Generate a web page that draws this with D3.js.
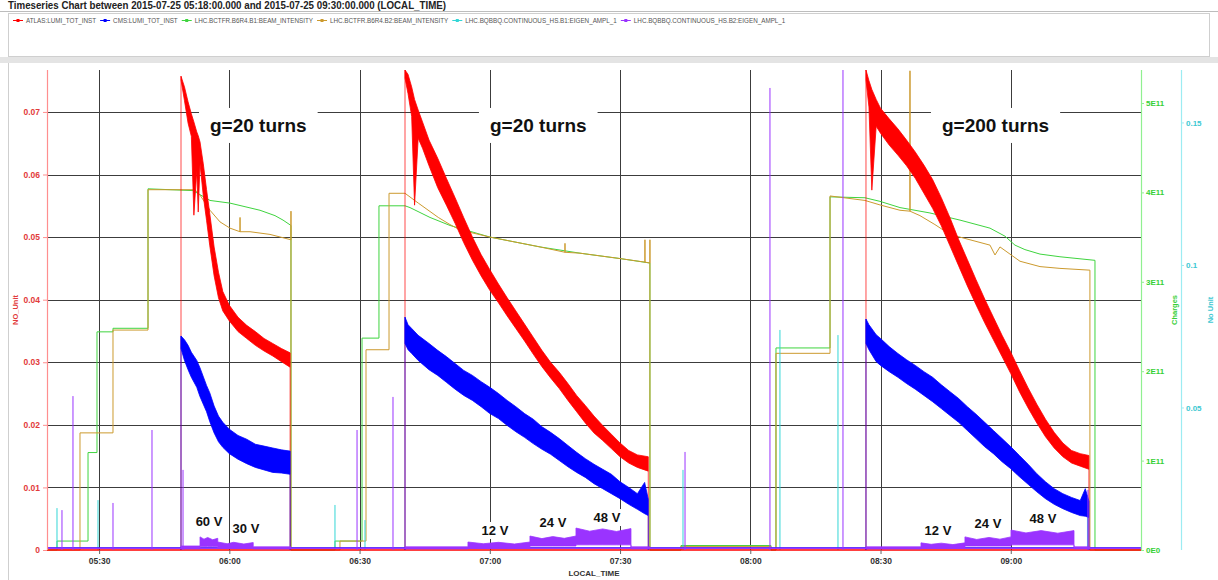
<!DOCTYPE html>
<html>
<head>
<meta charset="utf-8">
<script src="https://cdn.jsdelivr.net/npm/d3@7"></script>
<style>
	body { margin: 0; background: #fff; }
	svg { display: block; font-family: 'Liberation Sans', Arial, sans-serif; }
</style>
</head>
<body>
<div id="container"></div>
<script>
const chartTitle = 'Timeseries Chart between 2015-07-25 05:18:00.000 and 2015-07-25 09:30:00.000 (LOCAL_TIME)';
const seriesNames = [
	'ATLAS:LUMI_TOT_INST',
	'CMS:LUMI_TOT_INST',
	'LHC.BCTFR.B6R4.B1:BEAM_INTENSITY',
	'LHC.BCTFR.B6R4.B2:BEAM_INTENSITY',
	'LHC.BQBBQ.CONTINUOUS_HS.B1:EIGEN_AMPL_1',
	'LHC.BQBBQ.CONTINUOUS_HS.B2:EIGEN_AMPL_1'
];
const startTime = '05:18:00';
const endTime = '09:30:00';
const timeTicks = ['05:30:00', '06:00:00', '06:30:00', '07:00:00', '07:30:00', '08:00:00', '08:30:00', '09:00:00'];
const lumiTicks = [0, 0.01, 0.02, 0.03, 0.04, 0.05, 0.06, 0.07];
const chargeTicks = [0, 1e11, 2e11, 3e11, 4e11, 5e11];
const tuneTicks = [0.05, 0.1, 0.15];

// [time, low, high] of the noisy luminosity traces, one list per fill
const atlasFill1 = [
	['05:48:52', 0.0751, 0.0757], ['05:49:40', 0.0718, 0.0740], ['05:50:30', 0.0682, 0.0716],
	['05:51:15', 0.0661, 0.0697], ['05:51:50', 0.0535, 0.0684], ['05:52:30', 0.0606, 0.0668],
	['05:52:50', 0.0540, 0.0662], ['05:53:15', 0.0617, 0.0652], ['05:54:00', 0.0566, 0.0617],
	['05:54:45', 0.0527, 0.0576], ['05:55:30', 0.0486, 0.0537], ['05:56:30', 0.0438, 0.0484],
	['05:57:30', 0.0403, 0.0444], ['05:58:30', 0.0382, 0.0413], ['06:00:00', 0.0366, 0.0391],
	['06:02:00', 0.0349, 0.0372], ['06:04:00', 0.0338, 0.0359], ['06:06:00', 0.0327, 0.0349],
	['06:08:00', 0.0318, 0.0338], ['06:10:00', 0.0310, 0.0330], ['06:12:00', 0.0301, 0.0322],
	['06:14:00', 0.0292, 0.0315]
];
const atlasFill2 = [
	['06:40:28', 0.0754, 0.0767], ['06:41:10', 0.0729, 0.0760], ['06:42:00', 0.0693, 0.0740],
	['06:42:40', 0.0551, 0.0720], ['06:43:30', 0.0658, 0.0703], ['06:44:30', 0.0642, 0.0684],
	['06:46:00', 0.0614, 0.0655], ['06:48:00', 0.0579, 0.0626], ['06:50:00', 0.0551, 0.0594],
	['06:52:00', 0.0522, 0.0563], ['06:54:00', 0.0491, 0.0531], ['06:56:00', 0.0463, 0.0500],
	['06:58:00', 0.0438, 0.0472], ['07:00:00', 0.0415, 0.0448], ['07:02:00', 0.0395, 0.0425],
	['07:04:00', 0.0374, 0.0403], ['07:06:00', 0.0354, 0.0382], ['07:08:00', 0.0334, 0.0361],
	['07:10:00', 0.0313, 0.0340], ['07:12:00', 0.0293, 0.0319], ['07:14:00', 0.0275, 0.0300],
	['07:16:00', 0.0258, 0.0284], ['07:18:00', 0.0239, 0.0266], ['07:20:00', 0.0221, 0.0247],
	['07:22:00', 0.0203, 0.0231], ['07:24:00', 0.0187, 0.0214], ['07:26:00', 0.0175, 0.0199],
	['07:28:00', 0.0162, 0.0185], ['07:30:00', 0.0149, 0.0171], ['07:32:00', 0.0139, 0.0159],
	['07:34:00', 0.0132, 0.0152], ['07:36:30', 0.0126, 0.0149]
];
const atlasFill3 = [
	['08:26:39', 0.0751, 0.0767], ['08:27:20', 0.0708, 0.0750], ['08:28:00', 0.0575, 0.0736],
	['08:29:00', 0.0677, 0.0720], ['08:30:00', 0.0666, 0.0706], ['08:32:00', 0.0647, 0.0689],
	['08:34:00', 0.0631, 0.0673], ['08:36:00', 0.0614, 0.0655], ['08:38:00', 0.0594, 0.0636],
	['08:40:00', 0.0570, 0.0615], ['08:42:00', 0.0546, 0.0592], ['08:44:00', 0.0518, 0.0563],
	['08:46:00', 0.0486, 0.0531], ['08:48:00', 0.0454, 0.0496], ['08:50:00', 0.0422, 0.0464],
	['08:52:00', 0.0392, 0.0432], ['08:54:00', 0.0363, 0.0401], ['08:56:00', 0.0336, 0.0372],
	['08:58:00', 0.0309, 0.0343], ['09:00:00', 0.0282, 0.0316], ['09:02:00', 0.0253, 0.0287],
	['09:04:00', 0.0227, 0.0259], ['09:06:00', 0.0203, 0.0233], ['09:08:00', 0.0181, 0.0209],
	['09:10:00', 0.0163, 0.0188], ['09:12:00', 0.0149, 0.0171], ['09:14:00', 0.0139, 0.0159],
	['09:16:00', 0.0134, 0.0154], ['09:18:00', 0.0129, 0.0151]
];
const cmsFill1 = [
	['05:48:52', 0.0322, 0.0342], ['05:49:40', 0.0303, 0.0336], ['05:50:30', 0.0288, 0.0327],
	['05:51:15', 0.0276, 0.0316], ['05:52:30', 0.0260, 0.0303], ['05:53:15', 0.0245, 0.0291],
	['05:54:45', 0.0221, 0.0263], ['05:55:30', 0.0205, 0.0251], ['05:56:30', 0.0187, 0.0230],
	['05:57:30', 0.0173, 0.0214], ['05:58:30', 0.0164, 0.0204], ['06:00:00', 0.0154, 0.0193],
	['06:02:00', 0.0145, 0.0183], ['06:04:00', 0.0138, 0.0177], ['06:06:00', 0.0132, 0.0169],
	['06:08:00', 0.0128, 0.0166], ['06:10:00', 0.0124, 0.0163], ['06:12:00', 0.0123, 0.0160],
	['06:14:00', 0.0121, 0.0158]
];
const cmsFill2 = [
	['06:40:28', 0.0330, 0.0372], ['06:41:10', 0.0320, 0.0360], ['06:42:00', 0.0314, 0.0354],
	['06:43:30', 0.0303, 0.0343], ['06:46:00', 0.0288, 0.0330], ['06:48:00', 0.0279, 0.0319],
	['06:50:00', 0.0268, 0.0309], ['06:52:00', 0.0257, 0.0298], ['06:54:00', 0.0247, 0.0287],
	['06:56:00', 0.0239, 0.0279], ['06:58:00', 0.0229, 0.0269], ['07:00:00', 0.0218, 0.0260],
	['07:02:00', 0.0210, 0.0250], ['07:04:00', 0.0199, 0.0239], ['07:06:00', 0.0189, 0.0229],
	['07:08:00', 0.0180, 0.0218], ['07:10:00', 0.0170, 0.0209], ['07:12:00', 0.0161, 0.0197],
	['07:14:00', 0.0153, 0.0188], ['07:16:00', 0.0143, 0.0178], ['07:18:00', 0.0133, 0.0167],
	['07:20:00', 0.0124, 0.0156], ['07:22:00', 0.0116, 0.0146], ['07:24:00', 0.0106, 0.0137],
	['07:26:00', 0.0098, 0.0129], ['07:28:00', 0.0090, 0.0121], ['07:30:00', 0.0082, 0.0109],
	['07:32:00', 0.0073, 0.0100], ['07:34:00', 0.0065, 0.0090], ['07:35:40', 0.0058, 0.0108],
	['07:36:30', 0.0055, 0.0081]
];
const cmsFill3 = [
	['08:26:39', 0.0330, 0.0369], ['08:27:20', 0.0320, 0.0360], ['08:29:00', 0.0301, 0.0344],
	['08:30:00', 0.0295, 0.0338], ['08:32:00', 0.0285, 0.0325], ['08:34:00', 0.0276, 0.0314],
	['08:36:00', 0.0266, 0.0304], ['08:38:00', 0.0257, 0.0295], ['08:40:00', 0.0247, 0.0285],
	['08:42:00', 0.0237, 0.0276], ['08:44:00', 0.0226, 0.0264], ['08:46:00', 0.0215, 0.0253],
	['08:48:00', 0.0204, 0.0242], ['08:50:00', 0.0191, 0.0229], ['08:52:00', 0.0178, 0.0217],
	['08:54:00', 0.0165, 0.0204], ['08:56:00', 0.0154, 0.0191], ['08:58:00', 0.0141, 0.0178],
	['09:00:00', 0.0130, 0.0165], ['09:02:00', 0.0117, 0.0151], ['09:04:00', 0.0105, 0.0137],
	['09:06:00', 0.0093, 0.0122], ['09:08:00', 0.0082, 0.0109], ['09:10:00', 0.0073, 0.0098],
	['09:12:00', 0.0066, 0.0090], ['09:14:00', 0.0060, 0.0084], ['09:16:00', 0.0055, 0.0079],
	['09:17:10', 0.0054, 0.0098], ['09:18:00', 0.0052, 0.0078]
];

// [time, charges]
const beam1Intensity = [
	['05:18:00', 0], ['05:20:18', 0], ['05:20:18', 0.10e11], ['05:27:27', 0.10e11], ['05:27:27', 1.09e11],
	['05:29:31', 1.09e11], ['05:29:31', 2.44e11], ['05:33:12', 2.44e11], ['05:33:12', 2.48e11],
	['05:41:16', 2.48e11], ['05:41:16', 4.04e11], ['05:51:38', 4.02e11], ['05:55:33', 3.91e11],
	['06:00:09', 3.88e11], ['06:07:04', 3.80e11], ['06:10:31', 3.74e11], ['06:12:22', 3.69e11],
	['06:14:12', 3.63e11], ['06:14:12', 0], ['06:24:20', 0], ['06:24:20', 0.10e11],
	['06:30:34', 0.10e11], ['06:30:34', 2.37e11], ['06:34:28', 2.37e11], ['06:34:28', 3.85e11],
	['06:40:28', 3.85e11], ['06:41:37', 3.83e11], ['06:46:13', 3.72e11], ['06:50:50', 3.63e11],
	['07:00:02', 3.50e11], ['07:11:34', 3.39e11], ['07:20:46', 3.32e11], ['07:29:59', 3.26e11],
	['07:36:53', 3.21e11], ['07:36:53', 0], ['07:44:02', 0], ['07:44:02', 0.05e11],
	['08:04:46', 0.05e11], ['08:04:46', 0], ['08:05:55', 0], ['08:05:55', 2.26e11],
	['08:18:22', 2.26e11], ['08:18:22', 3.95e11], ['08:26:25', 3.94e11], ['08:29:52', 3.90e11],
	['08:34:29', 3.83e11], ['08:41:23', 3.77e11], ['08:48:18', 3.69e11], ['08:55:13', 3.60e11],
	['08:58:40', 3.51e11], ['09:00:58', 3.41e11], ['09:03:16', 3.36e11], ['09:06:44', 3.31e11],
	['09:11:20', 3.28e11], ['09:19:24', 3.24e11], ['09:19:24', 0], ['09:30:00', 0]
];
const beam2Intensity = [
	['05:18:00', 0], ['05:25:36', 0], ['05:25:36', 1.31e11], ['05:33:12', 1.31e11], ['05:33:12', 2.46e11],
	['05:41:16', 2.46e11], ['05:41:16', 4.03e11], ['05:52:05', 4.03e11], ['05:53:15', 3.97e11],
	['05:55:33', 3.80e11], ['05:57:51', 3.67e11], ['06:00:09', 3.60e11], ['06:02:28', 3.56e11],
	['06:02:28', 3.72e11], ['06:02:28', 3.56e11], ['06:04:46', 3.56e11], ['06:09:22', 3.53e11],
	['06:14:12', 3.47e11], ['06:14:12', 3.79e11], ['06:14:12', 0], ['06:25:29', 0], ['06:25:29', 0.10e11],
	['06:31:29', 0.10e11], ['06:31:29', 2.24e11], ['06:36:47', 2.24e11], ['06:36:47', 3.99e11],
	['06:40:28', 3.99e11], ['06:43:32', 3.88e11], ['06:48:08', 3.72e11], ['06:50:50', 3.64e11],
	['06:53:08', 3.58e11], ['07:00:02', 3.50e11], ['07:11:34', 3.39e11], ['07:17:19', 3.33e11],
	['07:17:19', 3.43e11], ['07:17:19', 3.33e11], ['07:20:46', 3.32e11], ['07:29:59', 3.26e11],
	['07:35:44', 3.22e11], ['07:35:44', 3.47e11], ['07:35:44', 3.22e11], ['07:36:53', 3.21e11],
	['07:36:53', 3.47e11], ['07:36:53', 0], ['07:44:02', 0], ['07:44:02', 0.04e11],
	['08:04:46', 0.04e11], ['08:04:46', 0], ['08:05:55', 0], ['08:05:55', 2.20e11],
	['08:18:22', 2.20e11], ['08:18:22', 3.96e11], ['08:26:25', 3.91e11], ['08:29:52', 3.86e11],
	['08:34:29', 3.80e11], ['08:36:47', 3.79e11], ['08:36:47', 5.36e11], ['08:36:47', 3.79e11],
	['08:39:05', 3.74e11], ['08:42:32', 3.64e11], ['08:45:59', 3.53e11], ['08:50:36', 3.47e11],
	['08:55:13', 3.41e11], ['08:56:22', 3.30e11], ['08:57:31', 3.39e11], ['08:59:49', 3.31e11],
	['09:02:07', 3.23e11], ['09:06:44', 3.17e11], ['09:11:20', 3.15e11], ['09:18:14', 3.13e11],
	['09:18:14', 0], ['09:30:00', 0]
];

// [time, low, high] of the B2 eigen amplitude during the excitation steps
const b2AmplFill1 = [
	['05:48:52', 0.0004, 0.0014], ['05:53:15', 0.0004, 0.0014], ['05:53:15', 0.0011, 0.0046],
	['05:54:10', 0.0012, 0.0038], ['05:55:00', 0.0012, 0.0044], ['05:56:10', 0.0012, 0.0036],
	['05:57:20', 0.0011, 0.0041], ['05:57:20', 0.0007, 0.0028], ['05:59:30', 0.0007, 0.0022],
	['06:01:00', 0.0007, 0.0027], ['06:03:20', 0.0007, 0.0021], ['06:05:30', 0.0007, 0.0026],
	['06:05:30', 0.0004, 0.0011], ['06:14:12', 0.0004, 0.0011]
];
const b2AmplFill2 = [
	['06:40:28', 0.0004, 0.0011], ['06:54:58', 0.0004, 0.0011], ['06:54:58', 0.0007, 0.0028],
	['06:58:30', 0.0007, 0.0022], ['07:02:00', 0.0007, 0.0027], ['07:05:40', 0.0007, 0.0021],
	['07:09:15', 0.0007, 0.0028], ['07:09:15', 0.0014, 0.0049], ['07:12:00', 0.0014, 0.0040],
	['07:14:30', 0.0014, 0.0047], ['07:17:10', 0.0014, 0.0041], ['07:19:51', 0.0014, 0.0049],
	['07:19:51', 0.0018, 0.0077], ['07:23:00', 0.0018, 0.0066], ['07:26:00', 0.0018, 0.0074],
	['07:29:10', 0.0018, 0.0065], ['07:32:31', 0.0018, 0.0075], ['07:32:31', 0.0004, 0.0011],
	['07:36:54', 0.0004, 0.0011]
];
const b2AmplFill3 = [
	['08:26:39', 0.0004, 0.0011], ['08:39:19', 0.0004, 0.0011], ['08:39:19', 0.0007, 0.0025],
	['08:41:40', 0.0007, 0.0020], ['08:44:00', 0.0007, 0.0024], ['08:46:40', 0.0007, 0.0019],
	['08:49:27', 0.0007, 0.0025], ['08:49:27', 0.0014, 0.0046], ['08:52:10', 0.0014, 0.0037],
	['08:55:00', 0.0014, 0.0044], ['08:57:30', 0.0014, 0.0038], ['09:00:03', 0.0014, 0.0046],
	['09:00:03', 0.0018, 0.0070], ['09:03:30', 0.0018, 0.0060], ['09:07:00', 0.0018, 0.0068],
	['09:10:50', 0.0018, 0.0059], ['09:14:34', 0.0018, 0.0068], ['09:14:34', 0.0004, 0.0011],
	['09:18:14', 0.0004, 0.0011]
];
// [time, peak] of isolated spikes
const b2AmplSpikes = [
	['05:21:27', 0.0140], ['05:23:59', 0.0540], ['05:33:12', 0.0165], ['05:42:11', 0.0421],
	['05:49:20', 0.0281], ['06:29:25', 0.0421], ['06:37:42', 0.0537], ['07:44:58', 0.0344],
	['08:04:32', 0.1621], ['08:21:21', 0.1684], ['09:17:47', 0.0211]
];
const b1AmplSpikes = [
	['05:20:18', 0.0147], ['05:29:45', 0.0175], ['06:24:20', 0.0158], ['06:31:15', 0.0105],
	['07:44:30', 0.0281], ['08:06:50', 0.0772], ['08:20:12', 0.0754], ['09:17:40', 0.0193]
];
const amplBaseline = 0.0006;
const cmsBaseline = 0.0003;

// [text, time, luminosity]
const gainNotes = [['g=20 turns', '05:55:33', 0.0668], ['g=20 turns', '07:00:02', 0.0668], ['g=200 turns', '08:44:09', 0.0668]];
const voltageNotes = [
	['60 V', '05:55:19', 0.00384], ['30 V', '06:03:50', 0.00272], ['12 V', '07:01:11', 0.0024],
	['24 V', '07:14:33', 0.00368], ['48 V', '07:26:59', 0.00447], ['12 V', '08:43:14', 0.0024],
	['24 V', '08:54:45', 0.00352], ['48 V', '09:07:25', 0.00432]
];

const colors = ['#ff0000', '#0000ff', '#3fd43f', '#cc9a2e', '#33d6d6', '#9a33ff'];

const W = 1218;
const H = 580;
const plot = { left: 47, right: 1141, top: 70, bottom: 550 };
const tuneAxisX = 1181;

const parseTime = d3.timeParse('%H:%M:%S');
const x = d3.scaleTime().domain([parseTime(startTime), parseTime(endTime)]).range([plot.left, plot.right]);
const yLumi = d3.scaleLinear().domain([0, 0.0767]).range([plot.bottom, plot.top]);
const yCharge = d3.scaleLinear().domain([0, 5.369e11]).range([plot.bottom, plot.top]);
const yTune = d3.scaleLinear().domain([0, 0.1684]).range([plot.bottom, plot.top]);
const tx = s => x(parseTime(s));

const svg = d3.select('#container').append('svg')
	.attr('width', W)
	.attr('height', H);

svg.append('rect').attr('width', W).attr('height', H).attr('fill', '#fff');

// title strip and legend box
svg.append('text')
	.text(chartTitle)
	.attr('x', 8)
	.attr('y', 9)
	.attr('font-size', 10)
	.attr('font-weight', 700)
	.attr('fill', '#222')
	.attr('textLength', 438)
	.attr('lengthAdjust', 'spacingAndGlyphs');
svg.append('line').attr('x1', 0).attr('x2', W).attr('y1', 11.5).attr('y2', 11.5).attr('stroke', '#bdbdbd');
svg.append('rect')
	.attr('x', 8.5).attr('y', 13.5).attr('width', 1201).attr('height', 43)
	.attr('fill', '#fff').attr('stroke', '#cfcfcf');
svg.append('rect').attr('x', 0).attr('y', 57).attr('width', W).attr('height', 6).attr('fill', '#e4e4e4');
svg.append('line').attr('x1', 8.5).attr('x2', 8.5).attr('y1', 63).attr('y2', H).attr('stroke', '#cfcfcf');

const legend = svg.append('g').attr('font-size', 6.3).attr('fill', '#555');
let legendX = 26;
seriesNames.forEach((name, i) => {
	const item = legend.append('g');
	item.append('line')
		.attr('x1', legendX - 13).attr('x2', legendX - 3)
		.attr('y1', 20.5).attr('y2', 20.5)
		.attr('stroke', colors[i]).attr('stroke-width', 1);
	item.append('rect')
		.attr('x', legendX - 9.5).attr('y', 19).attr('width', 3).attr('height', 3)
		.attr('fill', colors[i]);
	const label = item.append('text').text(name).attr('x', legendX).attr('y', 22.7);
	legendX += label.node().getComputedTextLength() + 17;
});

// grid
const grid = svg.append('g').attr('stroke', '#3c3c3c').attr('stroke-width', 1).attr('shape-rendering', 'crispEdges');
grid.selectAll('.hgrid')
	.data(lumiTicks.filter(d => d > 0)).enter()
	.append('line')
	.attr('x1', plot.left).attr('x2', plot.right)
	.attr('y1', d => Math.round(yLumi(d)) + 0.5).attr('y2', d => Math.round(yLumi(d)) + 0.5);
grid.selectAll('.vgrid')
	.data(timeTicks).enter()
	.append('line')
	.attr('y1', plot.top).attr('y2', plot.bottom)
	.attr('x1', d => Math.round(tx(d)) + 0.5).attr('x2', d => Math.round(tx(d)) + 0.5);

const boxLayer = svg.append('g');

svg.append('clipPath').attr('id', 'plot-clip')
	.append('rect')
	.attr('x', plot.left).attr('y', plot.top - 1)
	.attr('width', plot.right - plot.left).attr('height', plot.bottom - plot.top + 2);
const data = svg.append('g').attr('clip-path', 'url(#plot-clip)');

const stepLine = y => d3.line().x(d => tx(d[0])).y(d => y(d[1]));
const bandArea = y => d3.area().x(d => tx(d[0])).y0(d => y(d[1])).y1(d => y(d[2]));

// beam intensities
data.append('path').datum(beam1Intensity)
	.attr('d', stepLine(yCharge)).attr('fill', 'none').attr('stroke', colors[2]).attr('stroke-width', 1);
data.append('path').datum(beam2Intensity)
	.attr('d', stepLine(yCharge)).attr('fill', 'none').attr('stroke', colors[3]).attr('stroke-width', 1);

// B1 eigen amplitude
data.append('path').datum([[startTime, amplBaseline], [endTime, amplBaseline]])
	.attr('d', stepLine(yTune)).attr('stroke', colors[4]).attr('stroke-width', 1);
data.selectAll('.b1-spike')
	.data(b1AmplSpikes).enter()
	.append('line')
	.attr('x1', d => tx(d[0])).attr('x2', d => tx(d[0]))
	.attr('y1', yTune(0)).attr('y2', d => yTune(d[1]))
	.attr('stroke', colors[4]).attr('stroke-width', 1);

function noisyTrace(fills, color, baseline) {
	const g = data.append('g');
	g.append('path').datum([[startTime, baseline], [endTime, baseline]])
		.attr('d', stepLine(yLumi)).attr('stroke', color).attr('stroke-width', 1.5);
	fills.forEach(rows => {
		const first = rows[0];
		const last = rows[rows.length - 1];
		g.append('path').datum([[first[0], 0], [first[0], first[2]]])
			.attr('d', stepLine(yLumi)).attr('stroke', color).attr('stroke-width', 1).attr('opacity', 0.7);
		g.append('path').datum([[last[0], last[1]], [last[0], 0]])
			.attr('d', stepLine(yLumi)).attr('stroke', color).attr('stroke-width', 1).attr('opacity', 0.7);
		g.append('path').datum(rows)
			.attr('d', bandArea(yLumi))
			.attr('fill', color).attr('stroke', color).attr('stroke-width', 0.8).attr('stroke-linejoin', 'round');
	});
}
noisyTrace([atlasFill1, atlasFill2, atlasFill3], colors[0], 0);
noisyTrace([cmsFill1, cmsFill2, cmsFill3], colors[1], cmsBaseline);

// B2 eigen amplitude
data.append('path').datum([[startTime, amplBaseline], [endTime, amplBaseline]])
	.attr('d', stepLine(yTune)).attr('stroke', colors[5]).attr('stroke-width', 1.5);
[b2AmplFill1, b2AmplFill2, b2AmplFill3].forEach(rows => {
	data.append('path').datum(rows)
		.attr('d', bandArea(yTune))
		.attr('fill', colors[5]).attr('stroke', colors[5]).attr('stroke-width', 0.8);
});
data.selectAll('.b2-spike')
	.data(b2AmplSpikes).enter()
	.append('line')
	.attr('x1', d => tx(d[0])).attr('x2', d => tx(d[0]))
	.attr('y1', yTune(0)).attr('y2', d => yTune(d[1]))
	.attr('stroke', colors[5]).attr('stroke-width', 1);

// annotations with white backing
const notes = svg.append('g').attr('font-weight', 700).attr('fill', '#111');
function note(text, time, value, size, anchor, padX, padY) {
	const label = notes.append('text')
		.text(text)
		.attr('x', tx(time))
		.attr('y', yLumi(value))
		.attr('font-size', size)
		.attr('text-anchor', anchor);
	const box = label.node().getBBox();
	boxLayer.append('rect')
		.attr('x', box.x - padX).attr('y', box.y - padY)
		.attr('width', box.width + 2 * padX).attr('height', box.height + 2 * padY)
		.attr('fill', '#fff');
}
gainNotes.forEach(d => note(d[0], d[1], d[2], 19, 'start', 11, 7));
voltageNotes.forEach(d => note(d[0], d[1], d[2], 13, 'middle', 2, 1));

// axes
const lumiAxis = svg.append('g')
	.attr('transform', `translate(${plot.left},0)`)
	.call(d3.axisLeft(yLumi).tickValues(lumiTicks).tickSize(4).tickPadding(3)
		.tickFormat(d => d === 0 ? '0' : d3.format('.2f')(d)));
const chargeAxis = svg.append('g')
	.attr('transform', `translate(${plot.right},0)`)
	.call(d3.axisRight(yCharge).tickValues(chargeTicks).tickSize(3).tickPadding(2)
		.tickFormat(d => d === 0 ? '0E0' : `${d / 1e11}E11`));
const tuneAxis = svg.append('g')
	.attr('transform', `translate(${tuneAxisX},0)`)
	.call(d3.axisRight(yTune).tickValues(tuneTicks).tickSize(3).tickPadding(2)
		.tickFormat(d => String(d)));
const timeAxis = svg.append('g')
	.attr('transform', `translate(0,${plot.bottom})`)
	.call(d3.axisBottom(x).tickValues(timeTicks.map(parseTime)).tickSize(4).tickPadding(4)
		.tickFormat(d3.timeFormat('%H:%M')));

[[lumiAxis, '#e23b3b', '#ff8f8f'], [chargeAxis, '#36cf36', '#90f090'], [tuneAxis, '#3cc8d2', '#9cecf2'], [timeAxis, '#333', '#666']]
	.forEach(([axis, textColor, lineColor]) => {
		axis.select('.domain').remove();
		axis.selectAll('line').attr('stroke', lineColor);
		axis.selectAll('text')
			.attr('fill', textColor)
			.attr('font-size', 8)
			.attr('font-weight', 700)
			.attr('font-family', "'Liberation Sans', Arial, sans-serif");
	});
lumiAxis.selectAll('text').attr('font-size', 8.5);
timeAxis.selectAll('text').attr('font-size', 8.5);

[[plot.left, '#ff8f8f'], [plot.right, '#90f090'], [tuneAxisX, '#9cecf2']].forEach(([ax, color]) => {
	svg.append('line')
		.attr('x1', ax + 0.5).attr('x2', ax + 0.5)
		.attr('y1', plot.top).attr('y2', plot.bottom)
		.attr('stroke', color).attr('stroke-width', 1.2);
});

const axisTitle = (text, px, py, color, rotate) => svg.append('text')
	.text(text)
	.attr('transform', `translate(${px},${py})${rotate ? ' rotate(-90)' : ''}`)
	.attr('text-anchor', 'middle')
	.attr('font-size', 7.5)
	.attr('font-weight', 700)
	.attr('fill', color);
const midY = (plot.top + plot.bottom) / 2;
axisTitle('NO_Unit', 18, midY, '#e23b3b', true);
axisTitle('Charges', 1177, midY, '#36cf36', true);
axisTitle('No Unit', 1213, midY, '#3cc8d2', true);
axisTitle('LOCAL_TIME', (plot.left + plot.right) / 2, 576, '#333', false).attr('font-size', 8);
</script>
</body>
</html>
